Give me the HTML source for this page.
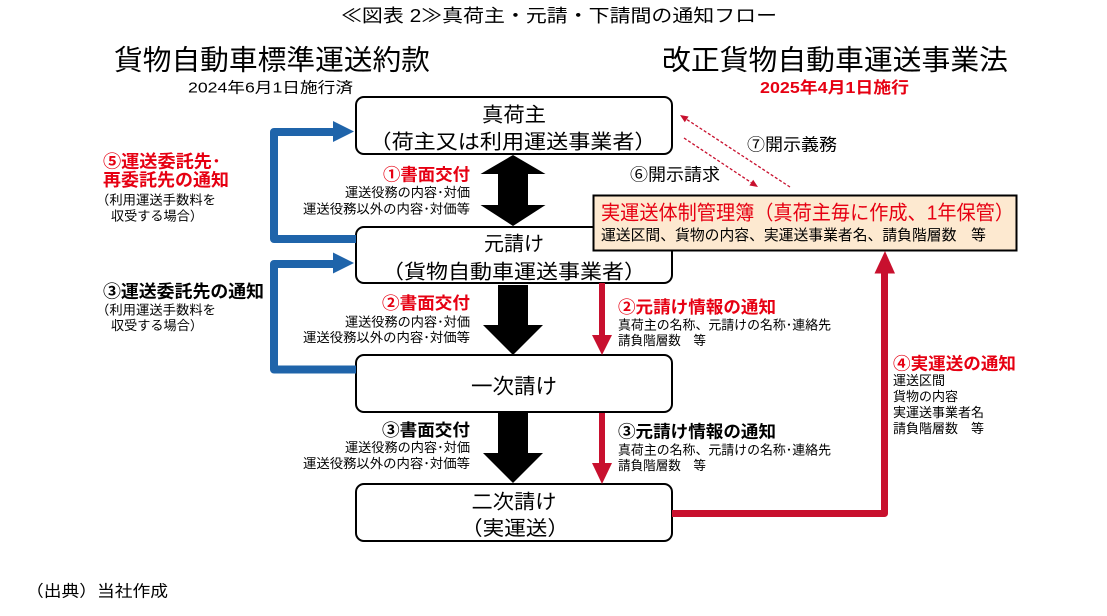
<!DOCTYPE html>
<html>
<head>
<meta charset="utf-8">
<style>
html,body{margin:0;padding:0;background:#fff;}
svg{display:block;}
text{font-family:"Liberation Sans","Noto Sans CJK JP",sans-serif;}
.b{font-weight:bold;}
.r{fill:#e60012;}
</style>
</head>
<body>
<svg width="1107" height="616" viewBox="0 0 1107 616" xmlns="http://www.w3.org/2000/svg">
<rect width="1107" height="616" fill="#fff"/>

<!-- Title -->
<text x="341" y="22" font-size="18" textLength="436" lengthAdjust="spacingAndGlyphs">≪図表 2≫真荷主・元請・下請間の通知フロー</text>

<!-- Headings -->
<text x="114" y="69.5" font-size="28" textLength="316" lengthAdjust="spacingAndGlyphs">貨物自動車標準運送約款</text>
<text x="188" y="92.5" font-size="15" textLength="165" lengthAdjust="spacingAndGlyphs">2024年6月1日施行済</text>
<text x="662" y="69.5" font-size="28" textLength="346" lengthAdjust="spacingAndGlyphs">改正貨物自動車運送事業法</text>
<text x="760" y="93" font-size="16" class="b r" textLength="149" lengthAdjust="spacingAndGlyphs">2025年4月1日施行</text>

<!-- Boxes -->
<rect x="356" y="97" width="316" height="57" rx="8" fill="#fff" stroke="#000" stroke-width="2"/>
<rect x="356" y="227" width="316" height="56" rx="8" fill="#fff" stroke="#000" stroke-width="2"/>
<rect x="356" y="355" width="316" height="57" rx="8" fill="#fff" stroke="#000" stroke-width="2"/>
<rect x="356" y="484" width="316" height="57" rx="8" fill="#fff" stroke="#000" stroke-width="2"/>

<!-- Box texts -->
<text x="514" y="121.7" font-size="20" text-anchor="middle" textLength="64" lengthAdjust="spacingAndGlyphs">真荷主</text>
<text x="513" y="148.5" font-size="20" text-anchor="middle" textLength="287" lengthAdjust="spacingAndGlyphs">（荷主又は利用運送事業者）</text>
<text x="514" y="250.3" font-size="20" text-anchor="middle" textLength="60" lengthAdjust="spacingAndGlyphs">元請け</text>
<text x="514" y="278.5" font-size="20" text-anchor="middle" textLength="264" lengthAdjust="spacingAndGlyphs">（貨物自動車運送事業者）</text>
<text x="514" y="393.5" font-size="21" text-anchor="middle" textLength="86" lengthAdjust="spacingAndGlyphs">一次請け</text>
<text x="514" y="508.5" font-size="20" text-anchor="middle" textLength="85" lengthAdjust="spacingAndGlyphs">二次請け</text>
<text x="515" y="535" font-size="20" text-anchor="middle" textLength="108" lengthAdjust="spacingAndGlyphs">（実運送）</text>

<!-- Black arrows -->
<polygon points="513,155 545.5,174 528,174 528,205 545.5,205 513,226 480.5,205 498,205 498,174 480.5,174" fill="#000"/>
<polygon points="498,285 528,285 528,325 543,325 513,355 483,325 498,325" fill="#000"/>
<polygon points="498,413 528,413 528,453 543,453 513,483 483,453 498,453" fill="#000"/>

<!-- Red vertical arrows -->
<rect x="599" y="283" width="6" height="53" fill="#c8102e"/>
<polygon points="592,335 612,335 602,355" fill="#c8102e"/>
<rect x="599" y="413" width="6" height="51" fill="#c8102e"/>
<polygon points="592,463 612,463 602,484" fill="#c8102e"/>

<!-- Blue connectors -->
<polyline points="356,239 274,239 274,132 336,132" fill="none" stroke="#1f64aa" stroke-width="8" stroke-linejoin="round"/>
<polygon points="333,121 354,131.5 333,142" fill="#1f64aa"/>
<polyline points="356,369.5 274,369.5 274,264 336,264" fill="none" stroke="#1f64aa" stroke-width="8" stroke-linejoin="round"/>
<polygon points="333,252.5 354,263 333,273.5" fill="#1f64aa"/>

<!-- Red connector ④ -->
<polyline points="672,513.5 884.5,513.5 884.5,272" fill="none" stroke="#c8102e" stroke-width="7" stroke-linejoin="round"/>
<polygon points="874.5,273.5 895,273.5 885,251" fill="#c8102e"/>

<!-- Dotted arrows -->
<line x1="790" y1="187" x2="686.7" y2="119.4" stroke="#c8102e" stroke-width="1.3" stroke-dasharray="3,2"/>
<polygon points="680,115 688.6,116.5 684.8,122.3" fill="#c8102e"/>
<line x1="684" y1="138" x2="751.3" y2="182.6" stroke="#c8102e" stroke-width="1.3" stroke-dasharray="3,2"/>
<polygon points="758,187 749.4,185.5 753.2,179.7" fill="#c8102e"/>

<!-- Orange box -->
<rect x="593.5" y="195.5" width="423" height="55" fill="#fde9d0" stroke="#000" stroke-width="2"/>
<text x="601" y="219.5" font-size="20" class="r" textLength="413" lengthAdjust="spacingAndGlyphs">実運送体制管理簿（真荷主毎に作成、1年保管）</text>
<text x="601" y="240" font-size="15" textLength="385" lengthAdjust="spacingAndGlyphs">運送区間、貨物の内容、実運送事業者名、請負階層数　等</text>

<!-- Disclosure labels -->
<text x="747" y="150.5" font-size="17" textLength="90" lengthAdjust="spacingAndGlyphs">⑦開示義務</text>
<text x="630" y="180.5" font-size="17" textLength="90" lengthAdjust="spacingAndGlyphs">⑥開示請求</text>

<!-- Center left labels -->
<text x="470" y="180.5" font-size="17" class="b r" text-anchor="end" textLength="87" lengthAdjust="spacingAndGlyphs">①書面交付</text>
<text x="470" y="197" font-size="13" text-anchor="end" textLength="125" lengthAdjust="spacingAndGlyphs">運送役務の内容･対価</text>
<text x="470" y="213.5" font-size="13" text-anchor="end" textLength="167" lengthAdjust="spacingAndGlyphs">運送役務以外の内容･対価等</text>

<text x="470" y="308.8" font-size="17" class="b r" text-anchor="end" textLength="88" lengthAdjust="spacingAndGlyphs">②書面交付</text>
<text x="470" y="326.5" font-size="13" text-anchor="end" textLength="125" lengthAdjust="spacingAndGlyphs">運送役務の内容･対価</text>
<text x="470" y="342" font-size="13" text-anchor="end" textLength="167" lengthAdjust="spacingAndGlyphs">運送役務以外の内容･対価等</text>

<text x="470" y="436" font-size="17" class="b" text-anchor="end" textLength="88" lengthAdjust="spacingAndGlyphs">③書面交付</text>
<text x="470" y="452" font-size="13" text-anchor="end" textLength="125" lengthAdjust="spacingAndGlyphs">運送役務の内容･対価</text>
<text x="470" y="468" font-size="13" text-anchor="end" textLength="167" lengthAdjust="spacingAndGlyphs">運送役務以外の内容･対価等</text>

<!-- Right of red arrows -->
<text x="618" y="313" font-size="17" class="b r" textLength="158" lengthAdjust="spacingAndGlyphs">②元請け情報の通知</text>
<text x="618" y="329.5" font-size="13" textLength="213" lengthAdjust="spacingAndGlyphs">真荷主の名称、元請けの名称･連絡先</text>
<text x="618" y="345" font-size="13" textLength="88" lengthAdjust="spacingAndGlyphs">請負階層数　等</text>

<text x="618" y="437.5" font-size="17" class="b" textLength="158" lengthAdjust="spacingAndGlyphs">③元請け情報の通知</text>
<text x="618" y="454.5" font-size="13" textLength="213" lengthAdjust="spacingAndGlyphs">真荷主の名称、元請けの名称･連絡先</text>
<text x="618" y="470" font-size="13" textLength="88" lengthAdjust="spacingAndGlyphs">請負階層数　等</text>

<!-- ④ labels -->
<text x="893" y="369.5" font-size="17" class="b r" textLength="123" lengthAdjust="spacingAndGlyphs">④実運送の通知</text>
<text x="893" y="385" font-size="13">運送区間</text>
<text x="893" y="401" font-size="13">貨物の内容</text>
<text x="893" y="417" font-size="13">実運送事業者名</text>
<text x="893" y="433" font-size="13">請負階層数　等</text>

<!-- Left labels -->
<text x="103" y="167.5" font-size="17.5" class="b r" textLength="118" lengthAdjust="spacingAndGlyphs">⑤運送委託先･</text>
<text x="103" y="186" font-size="17.5" class="b r" textLength="126" lengthAdjust="spacingAndGlyphs">再委託先の通知</text>
<text x="96" y="204.5" font-size="13" textLength="120" lengthAdjust="spacingAndGlyphs">（利用運送手数料を</text>
<text x="111" y="220.5" font-size="13" textLength="92" lengthAdjust="spacingAndGlyphs">収受する場合）</text>

<text x="103" y="297.5" font-size="17.5" class="b" textLength="161" lengthAdjust="spacingAndGlyphs">③運送委託先の通知</text>
<text x="96" y="314.5" font-size="13" textLength="120" lengthAdjust="spacingAndGlyphs">（利用運送手数料を</text>
<text x="111" y="330" font-size="13" textLength="92" lengthAdjust="spacingAndGlyphs">収受する場合）</text>

<!-- Footnote -->
<text x="26" y="596.5" font-size="16" textLength="142" lengthAdjust="spacingAndGlyphs">（出典）当社作成</text>
</svg>
</body>
</html>
